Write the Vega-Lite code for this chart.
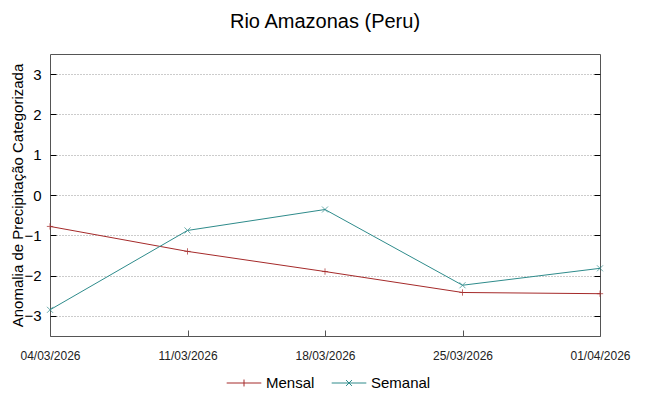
{
  "$schema": "https://vega.github.io/schema/vega-lite/v6.json",
  "width": 550,
  "height": 282,
  "autosize": {"type": "none"},
  "padding": {"left": 50, "top": 54, "right": 49, "bottom": 60},
  "background": "white",
  "title": {"text": "Rio Amazonas (Peru)", "fontSize": 20, "font": "Liberation Sans", "fontWeight": "normal", "color": "#000", "anchor": "middle", "offset": 22},
  "config": {
    "view": {"stroke": "#555", "strokeWidth": 1},
    "font": "Liberation Sans"
  },
  "data": {"values": [
    {"data": "04/03/2026", "serie": "Mensal", "valor": -0.78},
    {"data": "11/03/2026", "serie": "Mensal", "valor": -1.4},
    {"data": "18/03/2026", "serie": "Mensal", "valor": -1.9},
    {"data": "25/03/2026", "serie": "Mensal", "valor": -2.42},
    {"data": "01/04/2026", "serie": "Mensal", "valor": -2.45},
    {"data": "04/03/2026", "serie": "Semanal", "valor": -2.85},
    {"data": "11/03/2026", "serie": "Semanal", "valor": -0.88},
    {"data": "18/03/2026", "serie": "Semanal", "valor": -0.36},
    {"data": "25/03/2026", "serie": "Semanal", "valor": -2.24},
    {"data": "01/04/2026", "serie": "Semanal", "valor": -1.82}
  ]},
  "encoding": {
    "x": {"field": "data", "type": "ordinal", "sort": null,
      "scale": {"type": "point", "padding": 0},
      "axis": {"title": null, "labelAngle": 0, "labelFont": "Liberation Sans", "labelFontSize": 12, "labelColor": "#222", "tickSize": -6, "tickColor": "#555", "labelPadding": 20, "domain": false, "grid": false, "labelOverlap": false, "labelBound": false}},
    "y": {"field": "valor", "type": "quantitative",
      "scale": {"domain": [-3.5, 3.5], "nice": false, "zero": false}},
    "color": {"field": "serie", "type": "nominal",
      "scale": {"domain": ["Mensal", "Semanal"], "range": ["#a52a2a", "#2e8b8b"]}}
  },
  "layer": [
    {
      "mark": {"type": "line", "strokeWidth": 1, "clip": true},
      "encoding": {
        "y": {"field": "valor", "type": "quantitative",
          "axis": {"title": "Anomalia de Precipitação Categorizada", "titleFontSize": 15, "titleFontWeight": "normal", "titleColor": "#000", "titlePadding": -2, "labelFontSize": 15, "labelColor": "#000", "values": [-3, -2, -1, 0, 1, 2, 3], "tickSize": -6, "tickColor": "#000", "labelPadding": 15, "domain": false, "grid": true, "gridColor": "#999", "gridDash": [1, 2], "gridWidth": 1}},
        "color": {"field": "serie", "type": "nominal",
          "legend": {"orient": "none", "legendX": 176, "legendY": 311, "direction": "horizontal", "title": null, "labelFontSize": 15, "labelColor": "#000", "symbolSize": 1200, "symbolStrokeWidth": 1, "columnPadding": 14,
            "encode": {"symbols": {"update": {"shape": {"signal": "datum.value === 'Mensal' ? 'M-1,0L1,0M0,-0.2L0,0.2' : 'M-1,0L1,0M-0.17,-0.17L0.17,0.17M-0.17,0.17L0.17,-0.17'"}, "fill": {"value": "transparent"}}}}}}
      }
    },
    {
      "transform": [{"filter": "datum.serie === 'Mensal'"}],
      "mark": {"type": "point", "filled": false, "strokeWidth": 1, "size": 40, "shape": "M-1,0L1,0M0,-1L0,1"},
      "encoding": {
        "y": {"field": "valor", "type": "quantitative",
          "axis": {"orient": "right", "title": null, "labels": false, "grid": false, "domain": false, "values": [-3, -2, -1, 0, 1, 2, 3], "tickSize": -6, "tickColor": "#000"}}
      }
    },
    {
      "transform": [{"filter": "datum.serie === 'Semanal'"}],
      "mark": {"type": "point", "filled": false, "strokeWidth": 1, "size": 36, "shape": "M-1,-1L1,1M-1,1L1,-1"},
      "encoding": {
        "y": {"field": "valor", "type": "quantitative", "axis": null}
      }
    }
  ],
  "resolve": {"axis": {"y": "independent"}}
}
